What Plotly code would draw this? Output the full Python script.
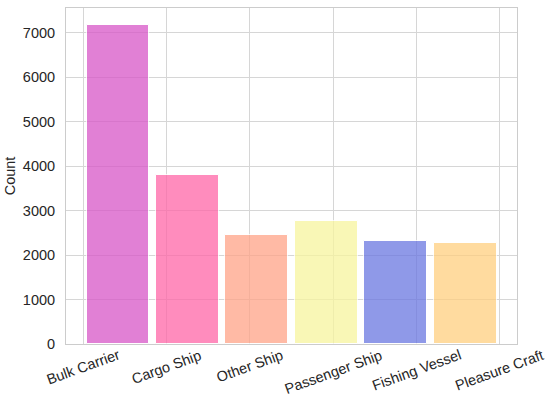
import plotly.graph_objects as go

categories = ["Bulk Carrier", "Cargo Ship", "Other Ship", "Passenger Ship", "Fishing Vessel", "Pleasure Craft"]
counts = [7185, 3800, 2455, 2760, 2320, 2280]
bar_colors = ["rgb(216,86,200)", "rgb(255,102,168)", "rgb(255,164,136)",
              "rgb(248,245,158)", "rgb(106,119,225)", "rgb(255,207,128)"]
tick_positions = [-0.5, 0.7, 1.9, 3.1, 4.3, 5.5]
y_ticks = [0, 1000, 2000, 3000, 4000, 5000, 6000, 7000]

FONT = "Liberation Sans, Arial, sans-serif"
FS = 14.5

fig = go.Figure()
fig.add_trace(go.Bar(
    x=list(range(len(categories))),
    y=counts,
    width=0.9,
    marker=dict(color=bar_colors, opacity=0.75, line=dict(color="white", width=1)),
    hovertext=categories,
    showlegend=False,
))

for pos, label in zip(tick_positions, categories):
    fig.add_annotation(
        x=pos, xref="x", y=0.0, yref="paper",
        text=label, showarrow=False, textangle=-20,
        xanchor="center", yanchor="top",
        font=dict(family=FONT, size=FS, color="#262626"),
    )

fig.update_layout(
    width=553, height=399,
    margin=dict(l=66, r=36, t=8, b=55),
    paper_bgcolor="white", plot_bgcolor="white",
    font=dict(family=FONT, size=FS, color="#262626"),
    bargap=0,
)
fig.update_xaxes(
    range=[-0.745, 5.745],
    tickvals=tick_positions, showticklabels=False,
    showgrid=True, gridcolor="#d6d6d6", gridwidth=1,
    showline=True, linecolor="#cccccc", linewidth=1, mirror=True,
    zeroline=False, ticks="",
)
fig.update_yaxes(
    range=[0, 7560],
    tickvals=y_ticks,
    showgrid=True, gridcolor="#d6d6d6", gridwidth=1,
    showline=True, linecolor="#cccccc", linewidth=1, mirror=True,
    zeroline=False, ticks="", ticklabelstandoff=7, automargin=False,
    title=dict(text="Count", font=dict(family=FONT, size=FS, color="#262626"), standoff=3),
    tickfont=dict(family=FONT, size=FS, color="#262626"),
)

fig.write_html("out.html", config={"displayModeBar": False},
               post_script="document.body.style.margin='0';document.body.style.padding='0';")
